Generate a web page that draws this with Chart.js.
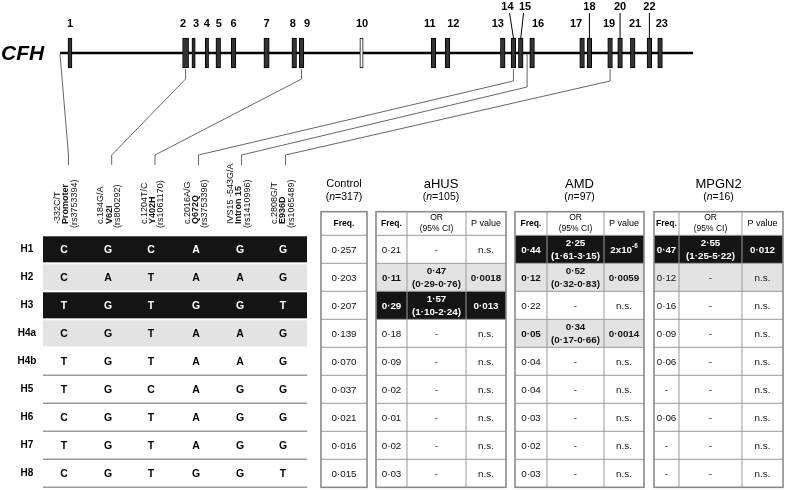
<!DOCTYPE html>
<html>
<head>
<meta charset="utf-8">
<title>CFH haplotypes</title>
<script src="https://cdn.jsdelivr.net/npm/chart.js@4.4.1/dist/chart.umd.min.js"></script>
<style>
  html, body { margin: 0; padding: 0; background: #fff; }
  canvas { display: block; }
</style>
</head>
<body>
<canvas id="cfhChart" width="785" height="490"></canvas>
<script>
// ====== DATA ======

// CFH gene, exon positions along the gene (kb from the start)
const geneLength = 95;
const exonNames = ['1','2','3','4','5','6','7','8','9','10','11','12','13','14','15','16','17','18','19','20','21','22','23'];
const exonStart = [1.2, 18.4, 19.8, 21.8, 23.4, 25.7, 30.6, 34.8, 35.9, 45.0, 55.7, 57.8, 66.1, 67.7, 68.8, 70.5, 78.0, 79.1, 82.2, 83.7, 85.6, 88.1, 89.7];
const exonEnd   = [1.8, 19.3, 20.3, 22.3, 24.1, 26.4, 31.4, 35.5, 36.6, 45.5, 56.4, 58.5, 66.8, 68.4, 69.5, 71.2, 78.7, 79.8, 82.9, 84.4, 86.3, 88.8, 90.4];

// SNPs typed, and where they sit on the gene (kb)
const snpNames  = ['-332C/T', 'c.184G/A', 'c.1204T/C', 'c.2016A/G', 'IVS15 -543G/A', 'c.2808G/T'];
const snpEffect = ['Promoter', 'V62I', 'Y402H', 'Q672Q', 'Intron 15', 'E936D'];
const snpRs     = ['(rs3753394)', '(rs800292)', '(rs1061170)', '(rs3753396)', '(rs1410996)', '(rs1065489)'];
const snpGenePos = [0, 18.85, 36.25, 68.05, 70.1, 82.55];

// haplotypes
const haplotypes = ['H1','H2','H3','H4a','H4b','H5','H6','H7','H8'];
const alleles = [
  ['C','G','C','A','G','G'],
  ['C','A','T','A','A','G'],
  ['T','G','T','G','G','T'],
  ['C','G','T','A','A','G'],
  ['T','G','T','A','A','G'],
  ['T','G','C','A','G','G'],
  ['C','G','T','A','G','G'],
  ['T','G','T','A','G','G'],
  ['C','G','T','G','G','T']
];

// groups
const groupNames = ['Control', 'aHUS', 'AMD', 'MPGN2'];
const groupN = [317, 105, 97, 16];

const controlFreq = [0.257, 0.203, 0.207, 0.139, 0.070, 0.037, 0.021, 0.016, 0.015];

const ahusFreq = [0.21, 0.11, 0.29, 0.18, 0.09, 0.02, 0.01, 0.02, 0.03];
const ahusOR = [null, [0.47, 0.29, 0.76], [1.57, 1.10, 2.24], null, null, null, null, null, null];
const ahusP = ['n.s.', '0·0018', '0·013', 'n.s.', 'n.s.', 'n.s.', 'n.s.', 'n.s.', 'n.s.'];

const amdFreq = [0.44, 0.12, 0.22, 0.05, 0.04, 0.04, 0.03, 0.02, 0.03];
const amdOR = [[2.25, 1.61, 3.15], [0.52, 0.32, 0.83], null, [0.34, 0.17, 0.66], null, null, null, null, null];
const amdP = ['2x10^-6', '0·0059', 'n.s.', '0·0014', 'n.s.', 'n.s.', 'n.s.', 'n.s.', 'n.s.'];

const mpgnFreq = [0.47, 0.12, 0.16, 0.09, 0.06, null, 0.06, null, null];
const mpgnOR = [[2.55, 1.25, 5.22], null, null, null, null, null, null, null, null];
const mpgnP = ['0·012', 'n.s.', 'n.s.', 'n.s.', 'n.s.', 'n.s.', 'n.s.', 'n.s.', 'n.s.'];

// ====== STYLE / LAYOUT ======
const FONT = '"Liberation Sans", Arial, Helvetica, sans-serif';
const BLACK = '#141414', GREY = '#e3e3e3', RULE = '#9a9a9a';

// b = black band, g = grey band (bold), l = grey band (plain)
const hapMark  = ['b','g','b','g','','','','',''];
const ahusMark = ['','g','b','','','','','',''];
const amdMark  = ['b','g','','g','','','','',''];
const mpgnMark = ['b','l','','','','','','',''];

const labelDx = [0,-2.5,2.5,0,0.5,0,0,-1.5,5.5,0.5,-3.7,5.8,-5,-6,4.3,6,-6,0,-1,0,2.3,0,1.7];
const raisedLabels = ['14','15','18','20','22'];

const rowLabelX = 27;
const alleleX = [64, 108, 151, 196, 240, 283];
const snpTailX = [68.5, 111.7, 155, 198.5, 241.5, 285.5];
const snpTextShift = -2.5, snpLineGap = 8.4, snpTextStartY = 224;
const hapBand = [43, 307];
const connectorFrom = [0, 15, 15, 15, 0, 15];
const connectorKnee = [0, 25, 25, 27, 33, 27];
const connectorBendY = 155, connectorEndY = 165;
const titleY = 184, countY = 197.5, headerTopRow = -0.843;

const tableLayout = [
  { titleSize: 11, edges: [321, 367] },
  { titleSize: 13, edges: [376, 407, 466, 506] },
  { titleSize: 13, edges: [515, 547, 604, 644] },
  { titleSize: 13, edges: [654, 679, 742, 783] }
];

// ====== HELPERS ======
function fmt(v, d) { return v === null ? '-' : v.toFixed(d).replace('.', '\u00b7'); }
function fmtOR(o) { return o === null ? ['-'] : [fmt(o[0], 2), '(' + fmt(o[1], 2) + '-' + fmt(o[2], 2) + ')']; }

function drawRich(ctx, s, cx, cy, size, weight) {
  const k = s.indexOf('^');
  ctx.font = weight + size + 'px ' + FONT;
  if (k < 0) { ctx.textAlign = 'center'; ctx.fillText(s, cx, cy); return; }
  const base = s.slice(0, k), sup = s.slice(k + 1);
  const wb = ctx.measureText(base).width;
  ctx.font = weight + (size * 0.65) + 'px ' + FONT;
  const ws = ctx.measureText(sup).width;
  const x0 = cx - (wb + ws) / 2;
  ctx.textAlign = 'left';
  ctx.font = weight + size + 'px ' + FONT;
  ctx.fillText(base, x0, cy);
  ctx.font = weight + (size * 0.65) + 'px ' + FONT;
  ctx.fillText(sup, x0 + wb, cy - size * 0.35);
  ctx.textAlign = 'center';
}

function drawCount(ctx, n, cx, cy, size) {
  const parts = [['(', ''], ['n', 'italic '], ['=' + n + ')', '']];
  let total = 0;
  const w = parts.map(p => { ctx.font = p[1] + size + 'px ' + FONT; const m = ctx.measureText(p[0]).width; total += m; return m; });
  let x0 = cx - total / 2;
  ctx.textAlign = 'left';
  parts.forEach((p, i) => { ctx.font = p[1] + size + 'px ' + FONT; ctx.fillText(p[0], x0, cy); x0 += w[i]; });
  ctx.textAlign = 'center';
}

function hline(ctx, x1, x2, y) { ctx.beginPath(); ctx.moveTo(x1, y); ctx.lineTo(x2, y); ctx.stroke(); }
function vline(ctx, x, y1, y2) { ctx.beginPath(); ctx.moveTo(x, y1); ctx.lineTo(x, y2); ctx.stroke(); }

// ====== PLUGINS ======
const genePlugin = {
  id: 'geneDeco',
  afterDatasetsDraw(chart) {
    const ctx = chart.ctx;
    const xs = chart.scales.x, yg = chart.scales.yg, tx = chart.scales.tx;
    const lineY = yg.getPixelForValue(0);
    const meta = chart.getDatasetMeta(0);
    ctx.save();
    ctx.fillStyle = '#000';
    ctx.textBaseline = 'middle';
    ctx.textAlign = 'left';
    ctx.font = 'italic bold 21px ' + FONT;
    ctx.fillText('CFH', 1, lineY + 1);

    ctx.font = 'bold 11px ' + FONT;
    ctx.textAlign = 'center';
    ctx.strokeStyle = '#000';
    ctx.lineWidth = 1;
    meta.data.forEach((bar, i) => {
      const cx = (bar.x + bar.base) / 2;
      const top = bar.y - bar.height / 2;
      const lx = cx + labelDx[i];
      if (raisedLabels.includes(exonNames[i])) {
        ctx.fillText(exonNames[i], lx, top - 31);
        ctx.beginPath();
        ctx.moveTo(lx + (cx - lx) * 0.35, top - 25);
        ctx.lineTo(cx, top);
        ctx.stroke();
      } else {
        ctx.fillText(exonNames[i], lx, top - 14);
      }
    });

    // connectors from the gene to the SNP columns
    ctx.strokeStyle = '#666';
    ctx.lineWidth = 1;
    snpGenePos.forEach((pos, i) => {
      const gx = xs.getPixelForValue(pos);
      const lx = tx.getPixelForValue(snpTailX[i]);
      ctx.beginPath();
      ctx.moveTo(gx, lineY + 1 + connectorFrom[i]);
      ctx.lineTo(gx, lineY + 1 + connectorKnee[i]);
      ctx.lineTo(lx, connectorBendY);
      ctx.lineTo(lx, connectorEndY);
      ctx.stroke();
    });
    ctx.restore();
  }
};

const tablePlugin = {
  id: 'hapTables',
  afterDatasetsDraw(chart) {
    const ctx = chart.ctx, tx = chart.scales.tx, ty = chart.scales.ty;
    const X = v => tx.getPixelForValue(v);
    const rowTop = r => ty.getPixelForValue(r);
    const rowMid = r => ty.getPixelForValue(r + 0.5);
    ctx.save();
    ctx.textBaseline = 'middle';
    ctx.textAlign = 'center';

    // rotated SNP labels
    snpNames.forEach((name, i) => {
      ctx.save();
      ctx.translate(X(snpTailX[i] + snpTextShift), snpTextStartY);
      ctx.rotate(-Math.PI / 2);
      ctx.fillStyle = '#111';
      ctx.textAlign = 'left';
      [[name, '', 0], [snpEffect[i], 'bold ', 0], [snpRs[i], '', -4]].forEach((ln, j) => {
        ctx.font = ln[1] + '9px ' + FONT;
        ctx.fillText(ln[0], ln[2], (j - 1) * snpLineGap);
      });
      ctx.restore();
    });

    // haplotype rows
    const hl = X(hapBand[0]), hr = X(hapBand[1]);
    haplotypes.forEach((h, r) => {
      const t = rowTop(r), b = rowTop(r + 1), m = rowMid(r);
      const mark = hapMark[r];
      if (mark) {
        ctx.fillStyle = mark === 'b' ? BLACK : GREY;
        ctx.fillRect(hl, t + 1, hr - hl, b - t - 2);
      } else {
        ctx.strokeStyle = RULE;
        ctx.lineWidth = 1.5;
        hline(ctx, hl, hr, b);
      }
      ctx.fillStyle = '#000';
      ctx.font = 'bold 10px ' + FONT;
      ctx.fillText(h, X(rowLabelX), m);
      ctx.fillStyle = mark === 'b' ? '#fff' : '#000';
      ctx.font = 'bold 10.5px ' + FONT;
      alleles[r].forEach((a, k) => ctx.fillText(a, X(alleleX[k]), m + 0.5));
    });

    // tables
    const groups = [
      { cols: [controlFreq.map(v => [fmt(v, 3)])], mark: null },
      { cols: [ahusFreq.map(v => [fmt(v, 2)]), ahusOR.map(fmtOR), ahusP.map(p => [p])], mark: ahusMark },
      { cols: [amdFreq.map(v => [fmt(v, 2)]), amdOR.map(fmtOR), amdP.map(p => [p])], mark: amdMark },
      { cols: [mpgnFreq.map(v => [fmt(v, 2)]), mpgnOR.map(fmtOR), mpgnP.map(p => [p])], mark: mpgnMark }
    ];
    const n = haplotypes.length;
    groupNames.forEach((g, gi) => {
      const L = tableLayout[gi], G = groups[gi];
      const e = L.edges.map(X);
      const left = e[0], right = e[e.length - 1];
      const cx = (left + right) / 2;
      const top = rowTop(headerTopRow), bottom = rowTop(n);

      ctx.fillStyle = '#000';
      ctx.font = L.titleSize + 'px ' + FONT;
      ctx.fillText(g, cx, titleY);
      drawCount(ctx, groupN[gi], cx, countY, 10.5);

      // fills
      if (G.mark) {
        G.mark.forEach((mk, r) => {
          if (!mk) return;
          ctx.fillStyle = mk === 'b' ? BLACK : GREY;
          ctx.fillRect(left, rowTop(r), right - left, rowTop(r + 1) - rowTop(r));
        });
      }

      // grid
      ctx.strokeStyle = RULE;
      ctx.lineWidth = 1;
      for (let r = 0; r < n; r++) hline(ctx, left, right, rowTop(r));
      for (let c = 1; c < e.length - 1; c++) vline(ctx, e[c], top, bottom);
      ctx.strokeStyle = '#8a8a8a';
      ctx.lineWidth = 1.6;
      ctx.strokeRect(left, top, right - left, bottom - top);

      // header
      const hm = (top + rowTop(0)) / 2;
      ctx.fillStyle = '#000';
      ctx.font = 'bold 8.5px ' + FONT;
      ctx.fillText('Freq.', (e[0] + e[1]) / 2, hm);
      if (e.length > 2) {
        ctx.font = '8.5px ' + FONT;
        ctx.fillText('OR', (e[1] + e[2]) / 2, hm - 5.5);
        ctx.fillText('(95% CI)', (e[1] + e[2]) / 2, hm + 5.5);
        ctx.font = '9px ' + FONT;
        ctx.fillText('P value', (e[2] + e[3]) / 2, hm);
      }

      // cells
      G.cols.forEach((col, c) => {
        const ccx = (e[c] + e[c + 1]) / 2;
        col.forEach((lines, r) => {
          const mk = G.mark ? G.mark[r] : '';
          const m = rowMid(r);
          ctx.fillStyle = mk === 'b' ? '#fff' : '#111';
          const weight = (mk === 'b' || mk === 'g') ? 'bold ' : '';
          if (lines.length === 1) {
            drawRich(ctx, lines[0], ccx, m + 0.5, 9.8, weight);
          } else {
            ctx.font = weight + '9.8px ' + FONT;
            ctx.fillText(lines[0], ccx, m - 6);
            ctx.fillText(lines[1], ccx, m + 6.5);
          }
        });
      });
    });
    ctx.restore();
  }
};

// ====== CHART ======
new Chart(document.getElementById('cfhChart'), {
  type: 'bar',
  data: {
    datasets: [
      {
        type: 'bar',
        indexAxis: 'y',
        xAxisID: 'x',
        yAxisID: 'yg',
        data: exonStart.map((s, i) => ({ x: [s, exonEnd[i]], y: 0 })),
        backgroundColor: exonNames.map(n => n === '10' ? '#ffffff' : '#333333'),
        borderColor: '#000',
        borderWidth: 1,
        borderSkipped: false,
        barThickness: 30,
        order: 1
      },
      {
        type: 'line',
        xAxisID: 'x',
        yAxisID: 'yg',
        data: [{ x: 0, y: 0 }, { x: geneLength, y: 0 }],
        borderColor: '#000',
        borderWidth: 2.5,
        pointRadius: 0,
        order: 2
      }
    ]
  },
  options: {
    responsive: false,
    animation: false,
    events: [],
    layout: { padding: 0, autoPadding: false },
    plugins: { legend: { display: false }, tooltip: { enabled: false } },
    scales: {
      x:  { type: 'linear', display: false, offset: false, bounds: 'data', min: -9, max: 108.8 },
      yg: { type: 'linear', display: false, offset: false, bounds: 'data', min: -8.245, max: 1 },
      tx: { type: 'linear', axis: 'x', display: false, offset: false, bounds: 'data', min: 0, max: 785 },
      ty: { type: 'linear', axis: 'y', display: false, offset: false, bounds: 'data', reverse: true, min: -8.404, max: 9.096 }
    }
  },
  plugins: [genePlugin, tablePlugin]
});
</script>
</body>
</html>
